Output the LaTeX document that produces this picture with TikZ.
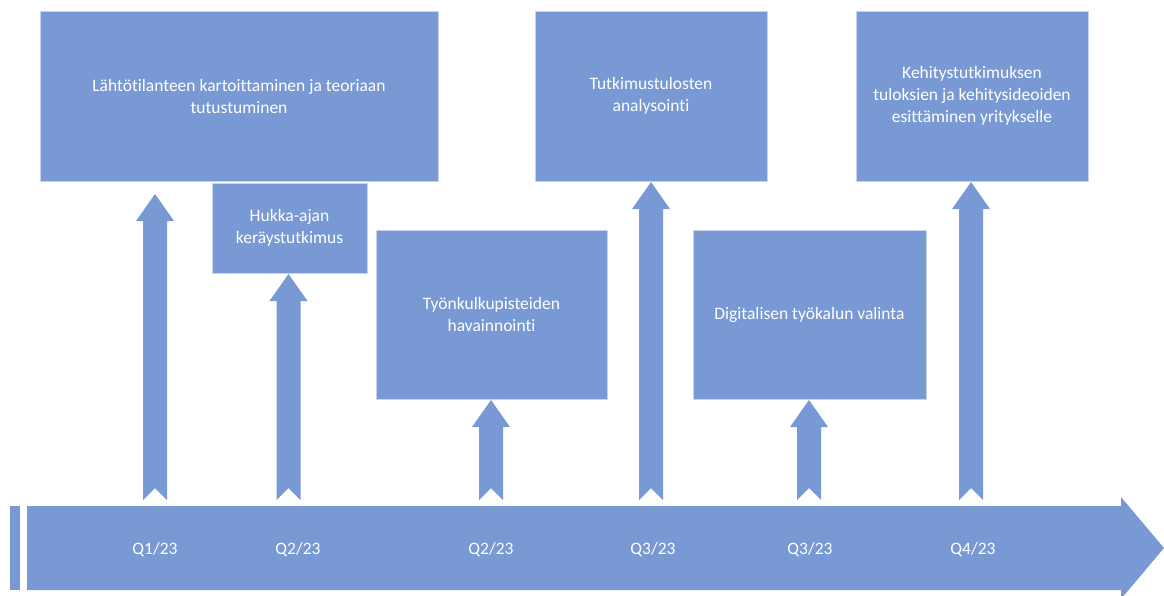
\documentclass[tikz,border=0pt]{standalone}
\usepackage{fontspec}
\setmainfont[Ligatures=NoCommon]{Carlito}
\definecolor{boxblue}{RGB}{120,153,212}
\definecolor{edgeblue}{RGB}{200,212,236}
\newcommand{\notcharrow}[3]{%
  \fill[boxblue] (#1,#2) -- (#1+19,#2+27) -- (#1+12,#2+27) -- (#1+12,#3)
    -- (#1,#3-12) -- (#1-12,#3) -- (#1-12,#2+27) -- (#1-19,#2+27) -- cycle;}
\begin{document}
\begin{tikzpicture}[x=1pt,y=-1pt,
  box/.style={fill=boxblue,draw=edgeblue,line width=0.8pt,text=white,
    align=center,inner sep=0pt,font=\fontsize{17.5}{22}\selectfont},
  qlabel/.style={text=white,font=\fontsize{17.5}{20}\selectfont,inner sep=0pt}]
\useasboundingbox (0,0) rectangle (1164,595);
% boxes
\node[box,minimum width=398pt,minimum height=170pt] (b1) at (239,96)
  {Lähtötilanteen kartoittaminen ja teoriaan\\tutustuminen};
\node[box,minimum width=155pt,minimum height=90pt] (b2) at (289.5,228)
  {Hukka-ajan\\keräystutkimus};
\node[box,minimum width=231pt,minimum height=169pt] (b3) at (491.5,314.5)
  {Työnkulkupisteiden\\havainnointi};
\node[box,minimum width=232pt,minimum height=170pt] (b4) at (651,96)
  {Tutkimustulosten\\analysointi};
\node[box,minimum width=233pt,minimum height=169pt] (b5) at (809.5,314.5)
  {Digitalisen työkalun valinta};
\node[box,minimum width=232pt,minimum height=170pt] (b6) at (972,96)
  {Kehitystutkimuksen\\tuloksien ja kehitysideoiden\\esittäminen yritykselle};
% up arrows
\notcharrow{155}{194}{500}
\notcharrow{288.5}{274}{500}
\notcharrow{491}{400}{500}
\notcharrow{651}{182}{500}
\notcharrow{809}{400}{500}
\notcharrow{971}{182}{500}
% timeline
\fill[boxblue] (10,506) rectangle (20,590);
\fill[boxblue] (27,506) -- (1121,506) -- (1121,497) -- (1164,548)
  -- (1121,599) -- (1121,590) -- (27,590) -- cycle;
\node[qlabel] (q1) at (155,550) {Q1/23};
\node[qlabel] (q2) at (298,550) {Q2/23};
\node[qlabel] (q3) at (491,550) {Q2/23};
\node[qlabel] (q4) at (653,550) {Q3/23};
\node[qlabel] (q5) at (810,550) {Q3/23};
\node[qlabel] (q6) at (973,550) {Q4/23};
\end{tikzpicture}
\end{document}
